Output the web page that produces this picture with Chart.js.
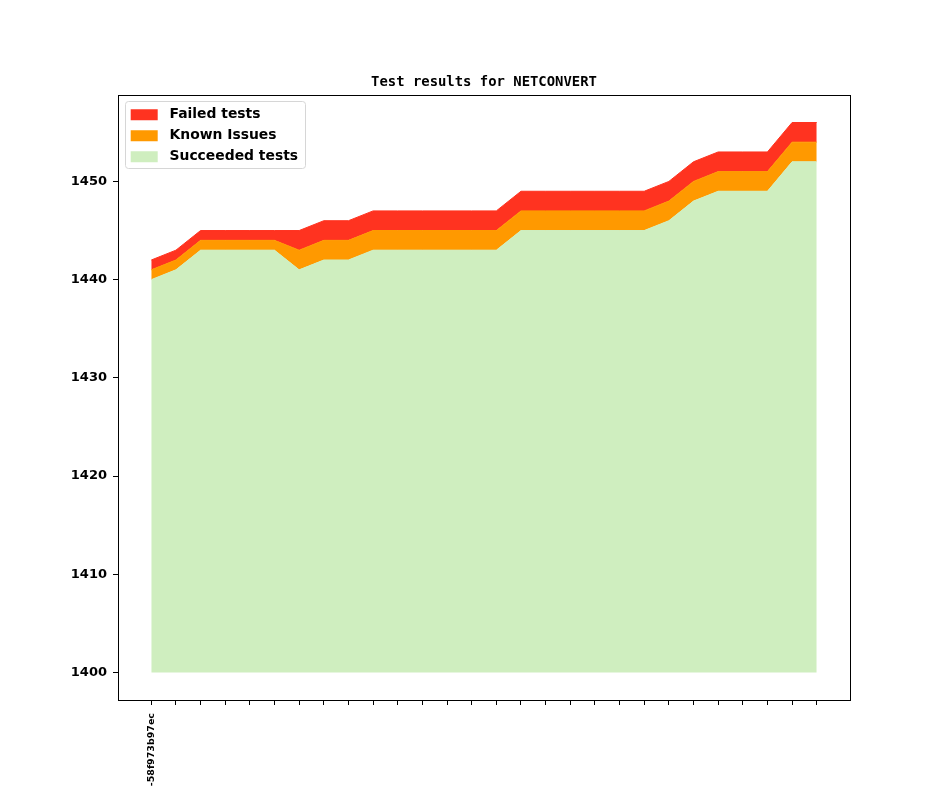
<!DOCTYPE html>
<html><head><meta charset="utf-8">
<script src="https://cdn.jsdelivr.net/npm/chart.js@4.4.0/dist/chart.umd.min.js"></script>
<style>html,body{margin:0;padding:0;background:#fff;overflow:hidden}canvas{display:block}</style>
</head><body>
<canvas id="c" width="944" height="787"></canvas>
<script>
// ---- data ----
const commits = ['-58f973b97ec','','','','','','','','','','','','','','','','','','','','','','','','','','',''];
const succeeded = [1440,1441,1443,1443,1443,1443,1441,1442,1442,1443,1443,1443,1443,1443,1443,1445,1445,1445,1445,1445,1445,1446,1448,1449,1449,1449,1452,1452];
const knownIssues = [1,1,1,1,1,1,2,2,2,2,2,2,2,2,2,2,2,2,2,2,2,2,2,2,2,2,2,2];
const failed = [1,1,1,1,1,1,2,2,2,2,2,2,2,2,2,2,2,2,2,2,2,2,2,2,2,2,2,2];
const yTicks = [1400,1410,1420,1430,1440,1450];
const yBase = 1400;
const seriesNames = ['Succeeded tests','Known Issues','Failed tests'];
const titleText = 'Test results for NETCONVERT';

// ---- build ----
const idx = commits.map((_, i) => i);
const pts = arr => arr.map((v, i) => ({x: i, y: v}));
const n = commits.length;
const xMargin = (n - 1) * 0.05;
const totals = succeeded.map((v, i) => v + knownIssues[i] + failed[i]);
const yMaxData = Math.max(...totals);
const yMargin = (yMaxData - yBase) * 0.05;

const C_RED = '#ff3320', C_ORANGE = '#ff9900', C_GREEN = '#cfeebf';

const helper = {
  id: 'helper',
  afterLayout(chart) {
    const lg = chart.legend, a = chart.chartArea;
    const dx = 5.7, dy = 5.9;
    const w = lg.width, h = lg.height;
    lg.left = a.left + dx; lg.right = lg.left + w;
    lg.top = a.top + dy; lg.bottom = lg.top + h;
  },
  beforeDraw(chart) {
    const hb = chart.legend.legendHitBoxes;
    if (!hb || !hb.length) return;
    const l = Math.min(...hb.map(h => h.left)) - 5.7;
    const t = Math.min(...hb.map(h => h.top)) - 7;
    const r = Math.max(...hb.map(h => h.left + h.width)) + 7;
    const b = Math.max(...hb.map(h => h.top + h.height)) + 4;
    const ctx = chart.ctx;
    ctx.save();
    ctx.beginPath();
    ctx.roundRect(Math.round(l) + 0.5, Math.round(t) + 0.5, Math.round(r - l), Math.round(b - t), 3);
    ctx.fillStyle = 'rgba(255,255,255,0.8)';
    ctx.fill();
    ctx.strokeStyle = '#d6d6d6';
    ctx.lineWidth = 1;
    ctx.stroke();
    ctx.restore();
  },
  afterDraw(chart) {
    const a = chart.chartArea, ctx = chart.ctx;
    ctx.save();
    ctx.strokeStyle = '#000';
    ctx.lineWidth = 1;
    ctx.strokeRect(Math.round(a.left) + 0.5, Math.round(a.top) + 0.5, Math.round(a.right - a.left), Math.round(a.bottom - a.top));
    ctx.restore();
  }
};

new Chart(document.getElementById('c'), {
  type: 'line',
  data: {
    datasets: [
      {label: seriesNames[0], data: pts(succeeded), backgroundColor: C_GREEN, borderColor: C_GREEN, fill: {value: yBase}},
      {label: seriesNames[1], data: pts(knownIssues), backgroundColor: C_ORANGE, borderColor: C_ORANGE, fill: '-1'},
      {label: seriesNames[2], data: pts(failed), backgroundColor: C_RED, borderColor: C_RED, fill: '-1'}
    ]
  },
  options: {
    responsive: false,
    animation: false,
    devicePixelRatio: 1,
    elements: {point: {radius: 0}, line: {borderWidth: 1, tension: 0}},
    layout: {padding: {top: 73.66, right: 94, bottom: 0, left: 0}},
    scales: {
      x: {
        type: 'linear',
        min: -xMargin, max: n - 1 + xMargin,
        afterBuildTicks: s => { s.ticks = idx.map(v => ({value: v})); },
        afterFit: s => { s.height = 87; },
        ticks: {
          autoSkip: false, minRotation: 90, maxRotation: 90, padding: 8,
          color: '#000', font: {family: 'DejaVu Sans', weight: 'bold', size: 9.5},
          callback: v => commits[v] ?? ''
        },
        grid: {drawOnChartArea: false, drawTicks: true, tickLength: 5, color: '#000'},
        border: {display: true, color: '#000'}
      },
      y: {
        stacked: true,
        min: yBase - yMargin, max: yMaxData + yMargin,
        afterBuildTicks: s => { s.ticks = yTicks.map(v => ({value: v})); },
        afterFit: s => { s.width = 118; },
        ticks: {padding: 6, color: '#000', font: {family: 'DejaVu Sans', weight: 'bold', size: 13},
          callback: v => String(v)},
        grid: {drawOnChartArea: false, drawTicks: true, tickLength: 5, color: '#000'},
        border: {display: true, color: '#000'}
      }
    },
    plugins: {
      tooltip: {enabled: false},
      title: {
        display: true, text: titleText, fullSize: false, color: '#000',
        font: {family: 'DejaVu Sans Mono', weight: 'bold', size: 13.9},
        padding: {top: 0, bottom: 4.66}
      },
      legend: {
        position: 'chartArea', align: 'start', reverse: true,
        labels: {
          boxWidth: 27, boxHeight: 11, padding: 7, color: '#000',
          font: {family: 'DejaVu Sans', weight: 'bold', size: 13.9},
          generateLabels: chart => Chart.defaults.plugins.legend.labels.generateLabels(chart)
            .map(l => Object.assign(l, {text: ' ' + l.text, lineWidth: 0, strokeStyle: l.fillStyle}))
        }
      }
    }
  },
  plugins: [helper]
});
</script>
</body></html>
